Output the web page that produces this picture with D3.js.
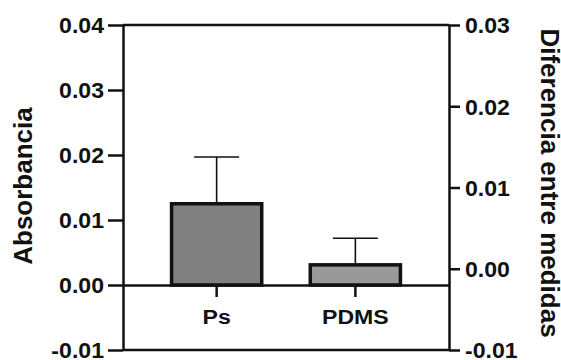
<!DOCTYPE html>
<html>
<head>
<meta charset="utf-8">
<script src="https://cdn.jsdelivr.net/npm/d3@7"></script>
<style>
html,body{margin:0;padding:0;background:#fff;}
text{font-family:"Liberation Sans",Arial,sans-serif;font-weight:bold;fill:#111;}
</style>
</head>
<body>
<svg id="chart" width="561" height="360"></svg>
<script>
const categories = ["Ps", "PDMS"];
const values = [0.0125, 0.0031];
const errors = [0.0072, 0.0041];
const leftTicks = [-0.01, 0.00, 0.01, 0.02, 0.03, 0.04];
const rightTicks = [-0.01, 0.00, 0.01, 0.02, 0.03];
const barColors = ["#808080", "#999999"];

const svg = d3.select("#chart");
const pLeft = 123, pRight = 449, pTop = 25, pBottom = 350;

const x = d3.scaleBand().domain(categories).range([pLeft, pRight]).paddingInner(0.35).paddingOuter(0.35);
const yL = d3.scaleLinear().domain([-0.01, 0.04]).range([pBottom, pTop]);
const yR = d3.scaleLinear().domain([-0.01, 0.03]).range([pBottom, pTop]);

const axisW = 2.5;
const fmt = d => d3.format(".2f")(d).replace("\u2212", "-");

// frame lines top and bottom
[pTop, pBottom].forEach(yy => {
  svg.append("line").attr("x1", pLeft).attr("x2", pRight).attr("y1", yy).attr("y2", yy)
    .attr("stroke", "#111").attr("stroke-width", axisW);
});

// bars with error bars
const g = svg.append("g");
categories.forEach((c, i) => {
  const bx = x(c), bw = x.bandwidth();
  const cx = bx + bw / 2;
  const yTop = yL(values[i]);
  const yErr = yL(values[i] + errors[i]);
  g.append("line").attr("x1", cx).attr("x2", cx).attr("y1", yTop).attr("y2", yErr)
    .attr("stroke", "#111").attr("stroke-width", 1.6);
  g.append("line").attr("x1", cx - 22.5).attr("x2", cx + 22.5).attr("y1", yErr).attr("y2", yErr)
    .attr("stroke", "#111").attr("stroke-width", 1.6);
  g.append("rect").attr("x", bx).attr("y", yTop).attr("width", bw).attr("height", yL(0) - yTop)
    .attr("fill", barColors[i]).attr("stroke", "#111").attr("stroke-width", 3.5);
});

// x axis at zero
const xAxis = d3.axisBottom(x).tickSize(12).tickSizeOuter(0).tickPadding(12);
const gx = svg.append("g").attr("transform", `translate(0,${yL(0)})`).call(xAxis);
gx.select(".domain").attr("stroke", "#111").attr("stroke-width", axisW);
gx.selectAll(".tick line").attr("stroke", "#111").attr("stroke-width", axisW);
gx.selectAll(".tick text").attr("font-size", 21).attr("fill", "#111")
  .attr("transform", "scale(1.1,1)");

// left axis
const yAxisL = d3.axisLeft(yL).tickValues(leftTicks).tickFormat(fmt).tickSize(15).tickSizeOuter(0).tickPadding(4);
const gl = svg.append("g").attr("transform", `translate(${pLeft},0)`).call(yAxisL);
gl.select(".domain").attr("stroke", "#111").attr("stroke-width", axisW);
gl.selectAll(".tick line").attr("stroke", "#111").attr("stroke-width", axisW);
gl.selectAll(".tick text").attr("font-size", 22).attr("fill", "#111")
  .attr("transform", "translate(-19,0) scale(1.05,1)").attr("x", 0).attr("dy", "0.36em");

// right axis
const yAxisR = d3.axisRight(yR).tickValues(rightTicks).tickFormat(fmt).tickSize(11).tickSizeOuter(0).tickPadding(4);
const gr = svg.append("g").attr("transform", `translate(${pRight},0)`).call(yAxisR);
gr.select(".domain").attr("stroke", "#111").attr("stroke-width", axisW);
gr.selectAll(".tick line").attr("stroke", "#111").attr("stroke-width", axisW);
gr.selectAll(".tick text").attr("font-size", 22).attr("fill", "#111")
  .attr("transform", "translate(16,0) scale(1.05,1)").attr("x", 0).attr("dy", "0.36em");

// axis titles
svg.append("text").attr("transform", "translate(32,186) rotate(-90)")
  .attr("text-anchor", "middle").attr("font-size", 26).text("Absorbancia");
svg.append("text").attr("transform", "translate(541,183) rotate(90)")
  .attr("text-anchor", "middle").attr("font-size", 26).text("Diferencia entre medidas");
</script>
</body>
</html>
